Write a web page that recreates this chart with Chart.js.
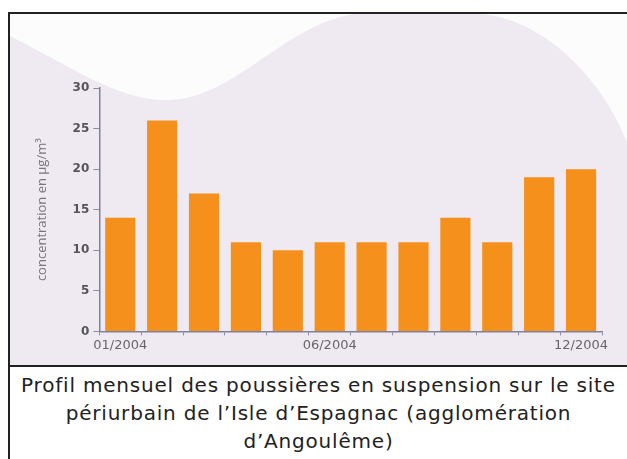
<!DOCTYPE html>
<html>
<head>
<meta charset="utf-8">
<script src="https://cdn.jsdelivr.net/npm/chart.js@4"></script>
<style>
body { margin: 0; background: #fff; width: 627px; height: 459px; overflow: hidden; position: relative; font-family: "DejaVu Sans", sans-serif; }
#frame { position: absolute; left: 8px; top: 12px; width: 640px; height: 351px; border-top: 2px solid #222; border-left: 2px solid #222; border-bottom: 2px solid #222; }
#wrap { position: absolute; left: 10px; top: 14px; width: 617px; height: 351px; }
#caption { position: absolute; left: 8px; top: 366px; width: 617px; height: 100px; border-left: 2px solid #222; text-align: center; font-size: 20px; letter-spacing: 0.8px; line-height: 28px; color: #222; padding-top: 5px; }
</style>
</head>
<body>
<div id="frame"></div>
<div id="wrap"><canvas id="chart"></canvas></div>
<div id="caption">Profil mensuel des poussières en suspension sur le site<br>périurbain de l’Isle d’Espagnac (agglomération<br>d’Angoulême)</div>
<script>
// monthly values (µg/m3)
const months = ['01/2004', '02/2004', '03/2004', '04/2004', '05/2004', '06/2004',
    '07/2004', '08/2004', '09/2004', '10/2004', '11/2004', '12/2004'];
const concentration = [14, 26, 17, 11, 10, 11, 11, 11, 14, 11, 19, 20];
const shownMonths = ['01/2004', '06/2004', '12/2004'];
const yMax = 30;
const yStep = 5;

// lavender background with the white wave on top
const waveBackground = {
    id: 'waveBackground',
    beforeDraw(chart) {
        const ctx = chart.ctx;
        const w = chart.width, h = chart.height;
        ctx.save();
        ctx.fillStyle = '#efe9f2';
        ctx.fillRect(0, 0, w, h);
        ctx.fillStyle = '#fdfcfd';
        ctx.beginPath();
        ctx.moveTo(0, 0);
        ctx.lineTo(0, 22);
        ctx.bezierCurveTo(60, 52, 110, 88, 160, 86);
        ctx.bezierCurveTo(225, 84, 275, 10, 345, 0);
        ctx.closePath();
        ctx.fill();
        ctx.beginPath();
        ctx.moveTo(470, 0);
        ctx.bezierCurveTo(530, 4, 590, 60, w, 128);
        ctx.lineTo(w, 0);
        ctx.closePath();
        ctx.fill();
        ctx.restore();
    }
};

new Chart(document.getElementById('chart').getContext('2d'), {
    type: 'bar',
    data: {
        labels: months,
        datasets: [{
            data: concentration,
            backgroundColor: '#f4901b',
            borderWidth: 0,
            categoryPercentage: 1,
            barPercentage: 0.72
        }]
    },
    options: {
        responsive: true,
        maintainAspectRatio: false,
        animation: false,
        layout: { padding: { left: 24, right: 25, top: 74, bottom: 10 } },
        plugins: { legend: { display: false }, tooltip: { enabled: false } },
        scales: {
            x: {
                grid: { drawOnChartArea: false, tickLength: 4, color: '#8a8fa8' },
                border: { color: '#7d82a0', width: 1.5 },
                ticks: {
                    autoSkip: false,
                    maxRotation: 0,
                    padding: 2,
                    color: '#666',
                    font: { family: 'DejaVu Sans', size: 13 },
                    callback: function (value) {
                        const label = this.getLabelForValue(value);
                        return shownMonths.includes(label) ? label : '';
                    }
                }
            },
            y: {
                min: 0,
                max: yMax,
                grid: { drawOnChartArea: false, tickLength: 6, color: '#8a8fa8' },
                border: { color: '#7d82a0', width: 1.5 },
                ticks: {
                    stepSize: yStep,
                    padding: 4,
                    color: '#555',
                    font: { family: 'DejaVu Sans', size: 12, weight: 'bold' }
                },
                title: {
                    display: true,
                    text: 'concentration en µg/m³',
                    color: '#777',
                    padding: { top: 0, bottom: 19 },
                    font: { family: 'Open Sans', size: 13 }
                }
            }
        }
    },
    plugins: [waveBackground]
});
</script>
</body>
</html>
